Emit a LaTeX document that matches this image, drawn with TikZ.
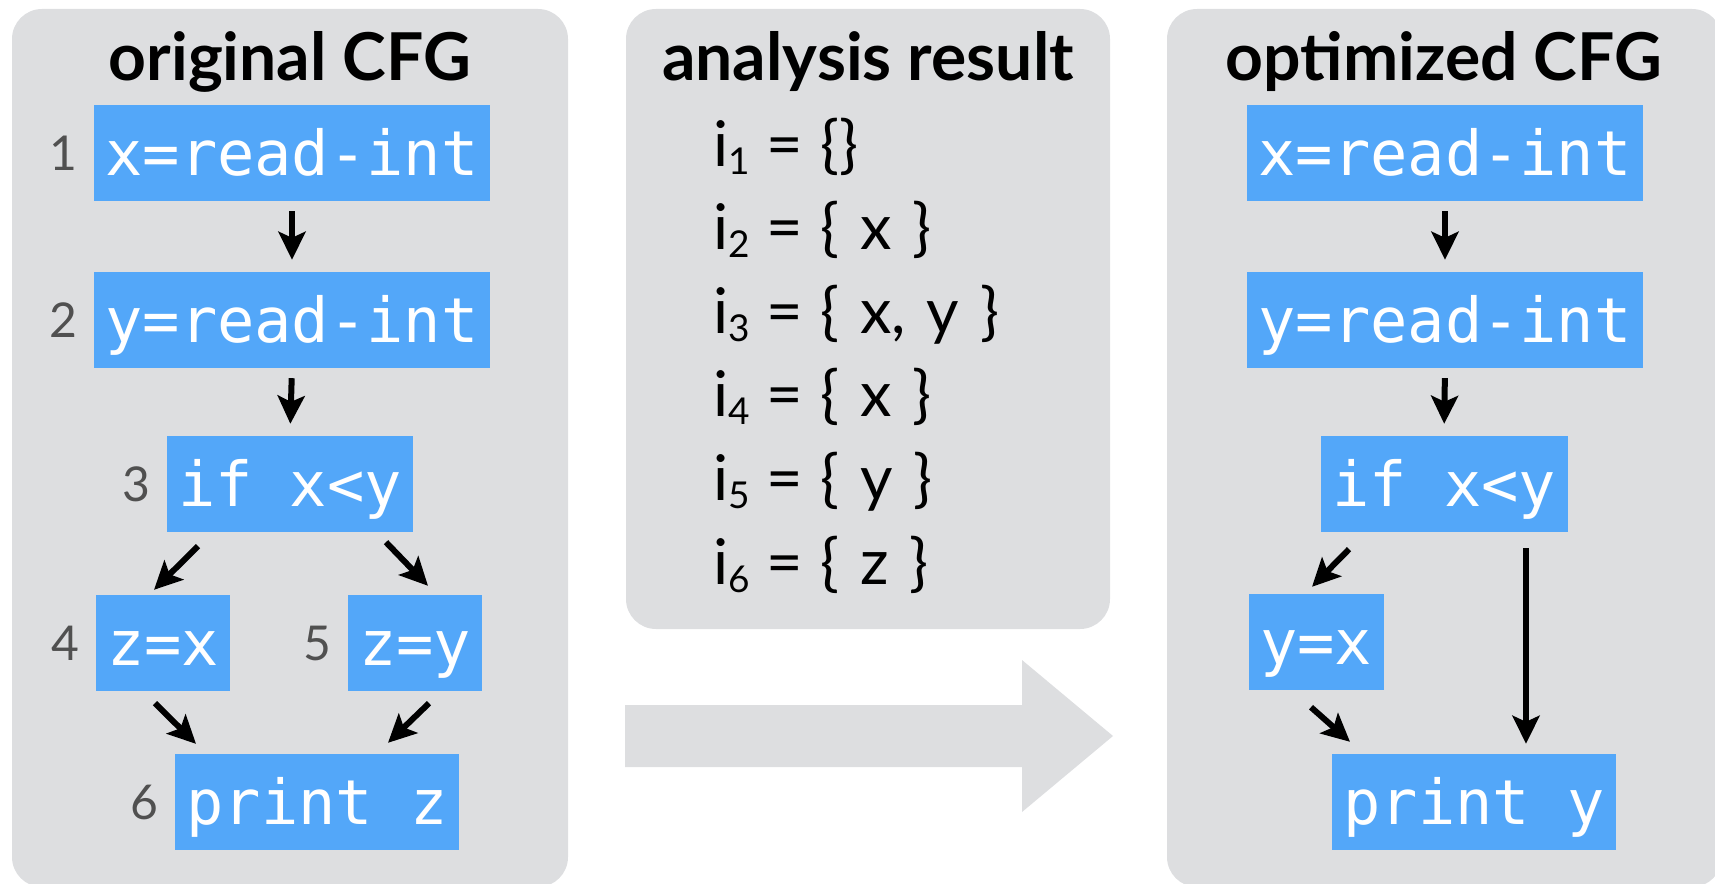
\documentclass[tikz,border=0pt]{standalone}
\usepackage{fontspec}
\setmainfont{Lato}
\setmonofont{DejaVu Sans Mono}
\usetikzlibrary{arrows.meta,positioning}
\definecolor{panelgray}{RGB}{221,222,224}
\definecolor{cfgblue}{RGB}{83,167,249}
\definecolor{numgray}{RGB}{80,80,80}
\newcommand{\subidx}[1]{\raisebox{-8pt}{\fontsize{37pt}{37pt}\selectfont #1}}
\newcommand{\wsp}{\hspace{17pt}}
\newcommand{\isp}{\hspace{21pt}}

\begin{document}
\begin{tikzpicture}[x=1pt,y=-1pt,
  panel/.style={fill=panelgray,rounded corners=30pt},
  title/.style={font=\bfseries\fontsize{66pt}{66pt}\selectfont,anchor=base,inner sep=0pt},
  stmt/.style={fill=cfgblue,text=white,font=\ttfamily\fontsize{62pt}{62pt}\selectfont,
    inner xsep=11.5pt,inner ysep=0pt,minimum height=96pt,text height=46pt,text depth=2pt},
  num/.style={text=numgray,font=\fontsize{48pt}{48pt}\selectfont,inner sep=0pt},
  setline/.style={font=\fontsize{63pt}{63pt}\selectfont,anchor=base west,inner sep=0pt},
  cfgarrow/.style={-{Stealth[length=28pt,width=27pt,inset=6pt]},line width=6pt},
  vgap/.style={shorten <=10pt,shorten >=12pt}]
\useasboundingbox (0,0) rectangle (1715,883);

% panels and the big arrow
\fill[panel] (12,9) rectangle (568,887);
\fill[panel] (626,9) rectangle (1110,629);
\fill[panel] (1167,9) rectangle (1722,887);
\fill[panelgray] (625,705) -- (1022,705) -- (1022,660) -- (1113,736) -- (1022,812) -- (1022,767) -- (625,767) -- cycle;

\node[title] (orig) at (290,80) {original CFG};
\node[title] (res) at (868,80) {analysis result};
\node[title] (opt) at (1444,80) {optimized CFG};

% original CFG
\node[stmt] (b1) at (292,153) {x=read-int};
\node[stmt] (b2) at (292,320) {y=read-int};
\node[stmt] (b3) at (290,484) {if x<y};
\node[stmt] (b4) at (163,643) {z=x};
\node[stmt] (b5) at (415,643) {z=y};
\node[stmt] (b6) at (317,802) {print z};
\node[num,left=16pt of b1] (n1) {1};
\node[num,left=16pt of b2] (n2) {2};
\node[num,left=16pt of b3] (n3) {3};
\node[num,left=16pt of b4] (n4) {4};
\node[num,left=16pt of b5] (n5) {5};
\node[num,left=16pt of b6] (n6) {6};
\draw[cfgarrow,vgap] (b1.south) -- (b2.north);
\draw[cfgarrow,vgap] (b2.south) -- (b3.north);
\draw[cfgarrow] ([shift={(-92,14)}]b3.south) -- ([shift={(-9,-5)}]b4.north);
\draw[cfgarrow] ([shift={(96,10)}]b3.south) -- ([shift={(13,-9)}]b5.north);
\draw[cfgarrow] ([shift={(-8,12)}]b4.south) -- ([shift={(-121,-10)}]b6.north);
\draw[cfgarrow] ([shift={(14,12)}]b5.south) -- ([shift={(71,-11)}]b6.north);

% analysis result
\foreach \k/\s in {1/{\{\}},2/{\{\isp x\isp\}},3/{\{\isp x,\isp y\isp\}},4/{\{\isp x\isp\}},5/{\{\isp y\isp\}},6/{\{\isp z\isp\}}}
  \node[setline] (r\k) at (713,{166+83.6*(\k-1)}) {i\subidx{\k}\wsp=\wsp\s};

% optimized CFG
\node[stmt] (c1) at (1445,153) {x=read-int};
\node[stmt] (c2) at (1445,320) {y=read-int};
\node[stmt] (c3) at (1444,484) {if x<y};
\node[stmt] (c4) at (1316,642) {y=x};
\node[stmt] (c6) at (1474,802) {print y};
\draw[cfgarrow,vgap] (c1.south) -- (c2.north);
\draw[cfgarrow,vgap] (c2.south) -- (c3.north);
\draw[cfgarrow] ([shift={(-95,17)}]c3.south) -- ([shift={(-4,-7)}]c4.north);
\draw[cfgarrow] ([shift={(-5,17)}]c4.south) -- ([shift={(-124,-12)}]c6.north);
\draw[cfgarrow] ([shift={(82,16)}]c3.south) -- ([shift={(52,-10)}]c6.north);
\end{tikzpicture}
\end{document}
